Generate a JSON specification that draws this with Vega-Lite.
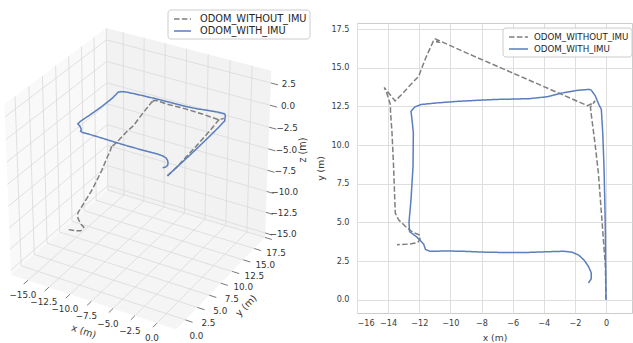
{
"$schema":"https://vega.github.io/schema/vega-lite/v6.json",
"padding":0,
"bounds":"flush",
"spacing":37,
"center":true,
"config":{"font":"DejaVu Sans","view":{"stroke":null},"text":{"font":"DejaVu Sans"}},
"resolve":{"scale":{"color":"independent","strokeDash":"independent","x":"independent","y":"independent"},"legend":{"color":"independent","strokeDash":"independent"}},
"datasets":{
"traj":[
{"series":"ODOM_WITHOUT_IMU","i":0,"x":0,"y":0,"z":0},
{"series":"ODOM_WITHOUT_IMU","i":1,"x":-0.04,"y":2.16,"z":0},
{"series":"ODOM_WITHOUT_IMU","i":2,"x":-0.28,"y":5.39,"z":0},
{"series":"ODOM_WITHOUT_IMU","i":3,"x":-0.49,"y":8.19,"z":0},
{"series":"ODOM_WITHOUT_IMU","i":4,"x":-0.71,"y":10.13,"z":-0.05},
{"series":"ODOM_WITHOUT_IMU","i":5,"x":-0.96,"y":12.07,"z":-0.1},
{"series":"ODOM_WITHOUT_IMU","i":6,"x":-1.0,"y":12.45,"z":-0.1},
{"series":"ODOM_WITHOUT_IMU","i":7,"x":-0.7,"y":12.85,"z":-0.1},
{"series":"ODOM_WITHOUT_IMU","i":8,"x":-0.95,"y":12.65,"z":-0.15},
{"series":"ODOM_WITHOUT_IMU","i":9,"x":-1.2,"y":12.55,"z":-0.2},
{"series":"ODOM_WITHOUT_IMU","i":10,"x":-3.5,"y":13.56,"z":-0.7},
{"series":"ODOM_WITHOUT_IMU","i":11,"x":-6.0,"y":14.66,"z":-1.3},
{"series":"ODOM_WITHOUT_IMU","i":12,"x":-8.5,"y":15.75,"z":-2.0},
{"series":"ODOM_WITHOUT_IMU","i":13,"x":-10.6,"y":16.7,"z":-2.5},
{"series":"ODOM_WITHOUT_IMU","i":14,"x":-11.0,"y":16.88,"z":-2.7},
{"series":"ODOM_WITHOUT_IMU","i":15,"x":-10.75,"y":16.65,"z":-2.75},
{"series":"ODOM_WITHOUT_IMU","i":16,"x":-11.1,"y":16.7,"z":-2.8},
{"series":"ODOM_WITHOUT_IMU","i":17,"x":-11.6,"y":15.6,"z":-3.8},
{"series":"ODOM_WITHOUT_IMU","i":18,"x":-12.04,"y":14.44,"z":-4.8},
{"series":"ODOM_WITHOUT_IMU","i":19,"x":-12.47,"y":14.0,"z":-5.3},
{"series":"ODOM_WITHOUT_IMU","i":20,"x":-13.1,"y":13.3,"z":-6.2},
{"series":"ODOM_WITHOUT_IMU","i":21,"x":-13.55,"y":12.85,"z":-6.8},
{"series":"ODOM_WITHOUT_IMU","i":22,"x":-14.25,"y":13.72,"z":-7.3},
{"series":"ODOM_WITHOUT_IMU","i":23,"x":-14.1,"y":13.4,"z":-7.4},
{"series":"ODOM_WITHOUT_IMU","i":24,"x":-13.85,"y":12.6,"z":-7.6},
{"series":"ODOM_WITHOUT_IMU","i":25,"x":-13.85,"y":12.2,"z":-7.8},
{"series":"ODOM_WITHOUT_IMU","i":26,"x":-13.75,"y":10.78,"z":-8.8},
{"series":"ODOM_WITHOUT_IMU","i":27,"x":-13.65,"y":8.62,"z":-10.0},
{"series":"ODOM_WITHOUT_IMU","i":28,"x":-13.54,"y":5.6,"z":-11.1},
{"series":"ODOM_WITHOUT_IMU","i":29,"x":-13.33,"y":5.17,"z":-11.3},
{"series":"ODOM_WITHOUT_IMU","i":30,"x":-12.9,"y":4.75,"z":-11.4},
{"series":"ODOM_WITHOUT_IMU","i":31,"x":-12.4,"y":4.35,"z":-11.5},
{"series":"ODOM_WITHOUT_IMU","i":32,"x":-12.0,"y":4.2,"z":-11.6},
{"series":"ODOM_WITHOUT_IMU","i":33,"x":-11.95,"y":3.9,"z":-11.7},
{"series":"ODOM_WITHOUT_IMU","i":34,"x":-12.1,"y":3.7,"z":-11.8},
{"series":"ODOM_WITHOUT_IMU","i":35,"x":-12.6,"y":3.6,"z":-11.9},
{"series":"ODOM_WITHOUT_IMU","i":36,"x":-13.43,"y":3.56,"z":-12.0},
{"series":"ODOM_WITH_IMU","i":0,"x":0,"y":0,"z":0},
{"series":"ODOM_WITH_IMU","i":1,"x":-0.02,"y":2.0,"z":0},
{"series":"ODOM_WITH_IMU","i":2,"x":-0.04,"y":4.31,"z":0},
{"series":"ODOM_WITH_IMU","i":3,"x":-0.08,"y":6.5,"z":0},
{"series":"ODOM_WITH_IMU","i":4,"x":-0.13,"y":8.62,"z":0},
{"series":"ODOM_WITH_IMU","i":5,"x":-0.21,"y":10.78,"z":0},
{"series":"ODOM_WITH_IMU","i":6,"x":-0.3,"y":12.3,"z":0},
{"series":"ODOM_WITH_IMU","i":7,"x":-0.45,"y":12.6,"z":0},
{"series":"ODOM_WITH_IMU","i":8,"x":-0.7,"y":13.2,"z":0},
{"series":"ODOM_WITH_IMU","i":9,"x":-0.95,"y":13.55,"z":0},
{"series":"ODOM_WITH_IMU","i":10,"x":-1.1,"y":13.6,"z":0},
{"series":"ODOM_WITH_IMU","i":11,"x":-1.88,"y":13.53,"z":0},
{"series":"ODOM_WITH_IMU","i":12,"x":-2.9,"y":13.35,"z":0},
{"series":"ODOM_WITH_IMU","i":13,"x":-3.8,"y":13.12,"z":0},
{"series":"ODOM_WITH_IMU","i":14,"x":-4.9,"y":13.0,"z":0},
{"series":"ODOM_WITH_IMU","i":15,"x":-6.0,"y":12.97,"z":0},
{"series":"ODOM_WITH_IMU","i":16,"x":-7.0,"y":12.95,"z":0},
{"series":"ODOM_WITH_IMU","i":17,"x":-8.1,"y":12.9,"z":0},
{"series":"ODOM_WITH_IMU","i":18,"x":-9.6,"y":12.82,"z":0},
{"series":"ODOM_WITH_IMU","i":19,"x":-10.9,"y":12.72,"z":0},
{"series":"ODOM_WITH_IMU","i":20,"x":-11.9,"y":12.62,"z":0},
{"series":"ODOM_WITH_IMU","i":21,"x":-12.3,"y":12.45,"z":0},
{"series":"ODOM_WITH_IMU","i":22,"x":-12.53,"y":12.18,"z":0},
{"series":"ODOM_WITH_IMU","i":23,"x":-12.45,"y":11.5,"z":0},
{"series":"ODOM_WITH_IMU","i":24,"x":-12.38,"y":10.78,"z":0},
{"series":"ODOM_WITH_IMU","i":25,"x":-12.4,"y":8.62,"z":0},
{"series":"ODOM_WITH_IMU","i":26,"x":-12.53,"y":6.47,"z":0},
{"series":"ODOM_WITH_IMU","i":27,"x":-12.66,"y":5.0,"z":0},
{"series":"ODOM_WITH_IMU","i":28,"x":-12.62,"y":4.4,"z":0},
{"series":"ODOM_WITH_IMU","i":29,"x":-12.15,"y":4.05,"z":0},
{"series":"ODOM_WITH_IMU","i":30,"x":-11.72,"y":3.6,"z":0},
{"series":"ODOM_WITH_IMU","i":31,"x":-11.6,"y":3.25,"z":0},
{"series":"ODOM_WITH_IMU","i":32,"x":-11.3,"y":3.13,"z":0},
{"series":"ODOM_WITH_IMU","i":33,"x":-10.2,"y":3.15,"z":0},
{"series":"ODOM_WITH_IMU","i":34,"x":-9.16,"y":3.13,"z":0},
{"series":"ODOM_WITH_IMU","i":35,"x":-8.0,"y":3.08,"z":0},
{"series":"ODOM_WITH_IMU","i":36,"x":-7.0,"y":3.06,"z":0},
{"series":"ODOM_WITH_IMU","i":37,"x":-6.0,"y":3.05,"z":0},
{"series":"ODOM_WITH_IMU","i":38,"x":-4.88,"y":3.06,"z":0},
{"series":"ODOM_WITH_IMU","i":39,"x":-3.8,"y":3.1,"z":0},
{"series":"ODOM_WITH_IMU","i":40,"x":-2.74,"y":3.13,"z":0},
{"series":"ODOM_WITH_IMU","i":41,"x":-2.2,"y":3.08,"z":0},
{"series":"ODOM_WITH_IMU","i":42,"x":-1.75,"y":2.88,"z":0},
{"series":"ODOM_WITH_IMU","i":43,"x":-1.4,"y":2.55,"z":0},
{"series":"ODOM_WITH_IMU","i":44,"x":-1.13,"y":2.15,"z":0},
{"series":"ODOM_WITH_IMU","i":45,"x":-0.95,"y":1.75,"z":0},
{"series":"ODOM_WITH_IMU","i":46,"x":-0.95,"y":1.35,"z":0},
{"series":"ODOM_WITH_IMU","i":47,"x":-1.13,"y":1.08,"z":0}
],
"ticks":[
{"axis":"x","v":-15},{"axis":"x","v":-12.5},{"axis":"x","v":-10},{"axis":"x","v":-7.5},{"axis":"x","v":-5},{"axis":"x","v":-2.5},{"axis":"x","v":0},
{"axis":"y","v":0},{"axis":"y","v":2.5},{"axis":"y","v":5},{"axis":"y","v":7.5},{"axis":"y","v":10},{"axis":"y","v":12.5},{"axis":"y","v":15},{"axis":"y","v":17.5},
{"axis":"z","v":-15},{"axis":"z","v":-12.5},{"axis":"z","v":-10},{"axis":"z","v":-7.5},{"axis":"z","v":-5},{"axis":"z","v":-2.5},{"axis":"z","v":0},{"axis":"z","v":2.5}
],
"panes":[
{"pane":"floor","k":0,"cx":0,"cy":0,"cz":0},{"pane":"floor","k":1,"cx":1,"cy":0,"cz":0},{"pane":"floor","k":2,"cx":1,"cy":1,"cz":0},{"pane":"floor","k":3,"cx":0,"cy":1,"cz":0},
{"pane":"xwall","k":0,"cx":0,"cy":0,"cz":0},{"pane":"xwall","k":1,"cx":0,"cy":1,"cz":0},{"pane":"xwall","k":2,"cx":0,"cy":1,"cz":1},{"pane":"xwall","k":3,"cx":0,"cy":0,"cz":1},
{"pane":"ywall","k":0,"cx":0,"cy":1,"cz":0},{"pane":"ywall","k":1,"cx":1,"cy":1,"cz":0},{"pane":"ywall","k":2,"cx":1,"cy":1,"cz":1},{"pane":"ywall","k":3,"cx":0,"cy":1,"cz":1}
]
},
"hconcat":[
{
"width":320,"height":336,
"view":{"stroke":null},
"encoding":{
"x":{"field":"sx","type":"quantitative","scale":{"domain":[-0.07349,0.09449],"nice":false,"zero":false},"axis":null},
"y":{"field":"sy","type":"quantitative","scale":{"domain":[-0.0835,0.08926],"nice":false,"zero":false},"axis":null}
},
"layer":[
{"data":{"name":"panes"},
"transform":[{"filter":"datum.pane=='floor'"},
{"calculate":"datum.cx==1?2.14:-17.04","as":"X"},{"calculate":"datum.cy==1?17.5:-1.9","as":"Y"},{"calculate":"datum.cz==1?3.87:-15.54","as":"Z"},
{"calculate":"(datum.X+17.04)/19.18-0.5","as":"qx"},{"calculate":"(datum.Y+1.9)/19.4-0.5","as":"qy"},{"calculate":"(datum.Z+15.54)/19.41-0.5","as":"qz"},
{"calculate":"(0.866*datum.qx+0.5*datum.qy)/(10-0.433*datum.qx+0.75*datum.qy-0.5*datum.qz)","as":"sx"},
{"calculate":"(-0.25*datum.qx+0.433*datum.qy+0.866*datum.qz)/(10-0.433*datum.qx+0.75*datum.qy-0.5*datum.qz)","as":"sy"}],
"mark":{"type":"line","fill":"#f5f5f5","strokeOpacity":0},
"encoding":{"order":{"field":"k","type":"quantitative"}}},
{"data":{"name":"panes"},
"transform":[{"filter":"datum.pane=='xwall'"},
{"calculate":"datum.cx==1?2.14:-17.04","as":"X"},{"calculate":"datum.cy==1?17.5:-1.9","as":"Y"},{"calculate":"datum.cz==1?3.87:-15.54","as":"Z"},
{"calculate":"(datum.X+17.04)/19.18-0.5","as":"qx"},{"calculate":"(datum.Y+1.9)/19.4-0.5","as":"qy"},{"calculate":"(datum.Z+15.54)/19.41-0.5","as":"qz"},
{"calculate":"(0.866*datum.qx+0.5*datum.qy)/(10-0.433*datum.qx+0.75*datum.qy-0.5*datum.qz)","as":"sx"},
{"calculate":"(-0.25*datum.qx+0.433*datum.qy+0.866*datum.qz)/(10-0.433*datum.qx+0.75*datum.qy-0.5*datum.qz)","as":"sy"}],
"mark":{"type":"line","fill":"#f9f9f9","strokeOpacity":0},
"encoding":{"order":{"field":"k","type":"quantitative"}}},
{"data":{"name":"panes"},
"transform":[{"filter":"datum.pane=='ywall'"},
{"calculate":"datum.cx==1?2.14:-17.04","as":"X"},{"calculate":"datum.cy==1?17.5:-1.9","as":"Y"},{"calculate":"datum.cz==1?3.87:-15.54","as":"Z"},
{"calculate":"(datum.X+17.04)/19.18-0.5","as":"qx"},{"calculate":"(datum.Y+1.9)/19.4-0.5","as":"qy"},{"calculate":"(datum.Z+15.54)/19.41-0.5","as":"qz"},
{"calculate":"(0.866*datum.qx+0.5*datum.qy)/(10-0.433*datum.qx+0.75*datum.qy-0.5*datum.qz)","as":"sx"},
{"calculate":"(-0.25*datum.qx+0.433*datum.qy+0.866*datum.qz)/(10-0.433*datum.qx+0.75*datum.qy-0.5*datum.qz)","as":"sy"}],
"mark":{"type":"line","fill":"#f2f2f2","strokeOpacity":0},
"encoding":{"order":{"field":"k","type":"quantitative"}}},
{"data":{"name":"ticks"},
"transform":[
{"calculate":"datum.axis=='x'?datum.v:(datum.axis=='y'?2.14:-17.04)","as":"X"},
{"calculate":"datum.axis=='y'?datum.v:-1.9","as":"Y"},
{"calculate":"datum.axis=='z'?datum.v:-15.54","as":"Z"},
{"calculate":"datum.axis=='x'?datum.v:-17.04","as":"X2"},
{"calculate":"datum.axis=='y'?datum.v:17.5","as":"Y2"},
{"calculate":"datum.axis=='z'?datum.v:-15.54","as":"Z2"},
{"calculate":"(datum.X+17.04)/19.18-0.5","as":"qx"},{"calculate":"(datum.Y+1.9)/19.4-0.5","as":"qy"},{"calculate":"(datum.Z+15.54)/19.41-0.5","as":"qz"},
{"calculate":"(0.866*datum.qx+0.5*datum.qy)/(10-0.433*datum.qx+0.75*datum.qy-0.5*datum.qz)","as":"sx"},
{"calculate":"(-0.25*datum.qx+0.433*datum.qy+0.866*datum.qz)/(10-0.433*datum.qx+0.75*datum.qy-0.5*datum.qz)","as":"sy"},
{"calculate":"(datum.X2+17.04)/19.18-0.5","as":"qx2"},{"calculate":"(datum.Y2+1.9)/19.4-0.5","as":"qy2"},{"calculate":"(datum.Z2+15.54)/19.41-0.5","as":"qz2"},
{"calculate":"(0.866*datum.qx2+0.5*datum.qy2)/(10-0.433*datum.qx2+0.75*datum.qy2-0.5*datum.qz2)","as":"sx2"},
{"calculate":"(-0.25*datum.qx2+0.433*datum.qy2+0.866*datum.qz2)/(10-0.433*datum.qx2+0.75*datum.qy2-0.5*datum.qz2)","as":"sy2"}],
"mark":{"type":"rule","color":"#dcdcdc","strokeWidth":0.9},
"encoding":{"x2":{"field":"sx2"},"y2":{"field":"sy2"}}},
{"data":{"name":"ticks"},
"transform":[
{"calculate":"datum.axis=='x'?datum.v:-17.04","as":"X"},
{"calculate":"datum.axis=='y'?datum.v:17.5","as":"Y"},
{"calculate":"datum.axis=='z'?datum.v:-15.54","as":"Z"},
{"calculate":"datum.axis=='x'?datum.v:(datum.axis=='y'?-17.04:2.14)","as":"X2"},
{"calculate":"datum.axis=='y'?datum.v:17.5","as":"Y2"},
{"calculate":"datum.axis=='z'?datum.v:3.87","as":"Z2"},
{"calculate":"(datum.X+17.04)/19.18-0.5","as":"qx"},{"calculate":"(datum.Y+1.9)/19.4-0.5","as":"qy"},{"calculate":"(datum.Z+15.54)/19.41-0.5","as":"qz"},
{"calculate":"(0.866*datum.qx+0.5*datum.qy)/(10-0.433*datum.qx+0.75*datum.qy-0.5*datum.qz)","as":"sx"},
{"calculate":"(-0.25*datum.qx+0.433*datum.qy+0.866*datum.qz)/(10-0.433*datum.qx+0.75*datum.qy-0.5*datum.qz)","as":"sy"},
{"calculate":"(datum.X2+17.04)/19.18-0.5","as":"qx2"},{"calculate":"(datum.Y2+1.9)/19.4-0.5","as":"qy2"},{"calculate":"(datum.Z2+15.54)/19.41-0.5","as":"qz2"},
{"calculate":"(0.866*datum.qx2+0.5*datum.qy2)/(10-0.433*datum.qx2+0.75*datum.qy2-0.5*datum.qz2)","as":"sx2"},
{"calculate":"(-0.25*datum.qx2+0.433*datum.qy2+0.866*datum.qz2)/(10-0.433*datum.qx2+0.75*datum.qy2-0.5*datum.qz2)","as":"sy2"}],
"mark":{"type":"rule","color":"#dcdcdc","strokeWidth":0.9},
"encoding":{"x2":{"field":"sx2"},"y2":{"field":"sy2"}}},
{"data":{"name":"ticks"},
"transform":[
{"calculate":"datum.axis=='x'?datum.v:2.14","as":"X"},
{"calculate":"datum.axis=='x'?-1.9:(datum.axis=='y'?datum.v:17.5)","as":"Y"},
{"calculate":"datum.axis=='z'?datum.v:-15.54","as":"Z"},
{"calculate":"datum.axis=='x'?datum.v:2.94","as":"X2"},
{"calculate":"datum.axis=='x'?-2.7:datum.Y","as":"Y2"},
{"calculate":"datum.Z","as":"Z2"},
{"calculate":"(datum.X+17.04)/19.18-0.5","as":"qx"},{"calculate":"(datum.Y+1.9)/19.4-0.5","as":"qy"},{"calculate":"(datum.Z+15.54)/19.41-0.5","as":"qz"},
{"calculate":"(0.866*datum.qx+0.5*datum.qy)/(10-0.433*datum.qx+0.75*datum.qy-0.5*datum.qz)","as":"sx"},
{"calculate":"(-0.25*datum.qx+0.433*datum.qy+0.866*datum.qz)/(10-0.433*datum.qx+0.75*datum.qy-0.5*datum.qz)","as":"sy"},
{"calculate":"(datum.X2+17.04)/19.18-0.5","as":"qx2"},{"calculate":"(datum.Y2+1.9)/19.4-0.5","as":"qy2"},{"calculate":"(datum.Z2+15.54)/19.41-0.5","as":"qz2"},
{"calculate":"(0.866*datum.qx2+0.5*datum.qy2)/(10-0.433*datum.qx2+0.75*datum.qy2-0.5*datum.qz2)","as":"sx2"},
{"calculate":"(-0.25*datum.qx2+0.433*datum.qy2+0.866*datum.qz2)/(10-0.433*datum.qx2+0.75*datum.qy2-0.5*datum.qz2)","as":"sy2"}],
"mark":{"type":"rule","color":"#555555","strokeWidth":0.8},
"encoding":{"x2":{"field":"sx2"},"y2":{"field":"sy2"}}},
{"data":{"name":"ticks"},
"transform":[{"filter":"datum.axis=='x'"},
{"calculate":"(datum.v+17.04)/19.18-0.5","as":"qx"},{"calculate":"-0.5","as":"qy"},{"calculate":"-0.5","as":"qz"},
{"calculate":"(0.866*datum.qx+0.5*datum.qy)/(10-0.433*datum.qx+0.75*datum.qy-0.5*datum.qz)","as":"sx"},
{"calculate":"(-0.25*datum.qx+0.433*datum.qy+0.866*datum.qz)/(10-0.433*datum.qx+0.75*datum.qy-0.5*datum.qz)","as":"sy"}],
"mark":{"type":"text","fontSize":8.8,"color":"#333333","dx":-5,"dy":15,"align":"center","baseline":"middle"},
"encoding":{"text":{"field":"v","type":"quantitative","format":".1f"}}},
{"data":{"name":"ticks"},
"transform":[{"filter":"datum.axis=='y'"},
{"calculate":"0.5","as":"qx"},{"calculate":"(datum.v+1.9)/19.4-0.5","as":"qy"},{"calculate":"-0.5","as":"qz"},
{"calculate":"(0.866*datum.qx+0.5*datum.qy)/(10-0.433*datum.qx+0.75*datum.qy-0.5*datum.qz)","as":"sx"},
{"calculate":"(-0.25*datum.qx+0.433*datum.qy+0.866*datum.qz)/(10-0.433*datum.qx+0.75*datum.qy-0.5*datum.qz)","as":"sy"}],
"mark":{"type":"text","fontSize":8.8,"color":"#333333","dx":11,"dy":16,"align":"center","baseline":"middle"},
"encoding":{"text":{"field":"v","type":"quantitative","format":".1f"}}},
{"data":{"name":"ticks"},
"transform":[{"filter":"datum.axis=='z'"},
{"calculate":"0.5","as":"qx"},{"calculate":"0.5","as":"qy"},{"calculate":"(datum.v+15.54)/19.41-0.5","as":"qz"},
{"calculate":"(0.866*datum.qx+0.5*datum.qy)/(10-0.433*datum.qx+0.75*datum.qy-0.5*datum.qz)","as":"sx"},
{"calculate":"(-0.25*datum.qx+0.433*datum.qy+0.866*datum.qz)/(10-0.433*datum.qx+0.75*datum.qy-0.5*datum.qz)","as":"sy"}],
"mark":{"type":"text","fontSize":8.8,"color":"#333333","dx":18,"dy":1,"align":"center","baseline":"middle"},
"encoding":{"text":{"field":"v","type":"quantitative","format":".1f"}}},
{"data":{"values":[{"title":"x (m)"}]},
"transform":[{"calculate":"0","as":"qx"},{"calculate":"-0.5","as":"qy"},{"calculate":"-0.5","as":"qz"},
{"calculate":"(0.866*datum.qx+0.5*datum.qy)/(10-0.433*datum.qx+0.75*datum.qy-0.5*datum.qz)","as":"sx"},
{"calculate":"(-0.25*datum.qx+0.433*datum.qy+0.866*datum.qz)/(10-0.433*datum.qx+0.75*datum.qy-0.5*datum.qz)","as":"sy"}],
"mark":{"type":"text","fontSize":9.6,"color":"#333333","angle":19,"dx":2.2,"dy":31,"align":"center","baseline":"middle"},
"encoding":{"text":{"field":"title"}}},
{"data":{"values":[{"title":"y (m)"}]},
"transform":[{"calculate":"0.5","as":"qx"},{"calculate":"0","as":"qy"},{"calculate":"-0.5","as":"qz"},
{"calculate":"(0.866*datum.qx+0.5*datum.qy)/(10-0.433*datum.qx+0.75*datum.qy-0.5*datum.qz)","as":"sx"},
{"calculate":"(-0.25*datum.qx+0.433*datum.qy+0.866*datum.qz)/(10-0.433*datum.qx+0.75*datum.qy-0.5*datum.qz)","as":"sy"}],
"mark":{"type":"text","fontSize":9.6,"color":"#333333","angle":-46,"dx":-0.6,"dy":34,"align":"center","baseline":"middle"},
"encoding":{"text":{"field":"title"}}},
{"data":{"values":[{"title":"z (m)"}]},
"transform":[{"calculate":"0.5","as":"qx"},{"calculate":"0.5","as":"qy"},{"calculate":"0","as":"qz"},
{"calculate":"(0.866*datum.qx+0.5*datum.qy)/(10-0.433*datum.qx+0.75*datum.qy-0.5*datum.qz)","as":"sx"},
{"calculate":"(-0.25*datum.qx+0.433*datum.qy+0.866*datum.qz)/(10-0.433*datum.qx+0.75*datum.qy-0.5*datum.qz)","as":"sy"}],
"mark":{"type":"text","fontSize":9.6,"color":"#333333","angle":-90,"dx":6,"dy":35,"align":"center","baseline":"middle"},
"encoding":{"text":{"field":"title"}}},
{"data":{"name":"traj"},
"transform":[
{"calculate":"(datum.x+17.04)/19.18-0.5","as":"qx"},{"calculate":"(datum.y+1.9)/19.4-0.5","as":"qy"},{"calculate":"(datum.z+15.54)/19.41-0.5","as":"qz"},
{"calculate":"(0.866*datum.qx+0.5*datum.qy)/(10-0.433*datum.qx+0.75*datum.qy-0.5*datum.qz)","as":"sx"},
{"calculate":"(-0.25*datum.qx+0.433*datum.qy+0.866*datum.qz)/(10-0.433*datum.qx+0.75*datum.qy-0.5*datum.qz)","as":"sy"}],
"mark":{"type":"line","strokeWidth":1.5},
"encoding":{
"order":{"field":"i","type":"quantitative"},
"color":{"field":"series","type":"nominal","scale":{"domain":["ODOM_WITHOUT_IMU","ODOM_WITH_IMU"],"range":["#7f7f7f","#5a7ebe"]},
"legend":{"orient":"none","legendX":167.5,"legendY":9.5,"title":null,"symbolType":"M-0.5,0H2.333","symbolSize":144,"symbolStrokeWidth":1.5,"labelFont":"DejaVu Sans","labelFontSize":9.8,"labelColor":"#262626","labelOffset":16,"fillColor":"rgba(255,255,255,0.85)","strokeColor":"#cccccc","cornerRadius":3,"padding":2.5,"rowPadding":0,"labelLimit":300}},
"strokeDash":{"field":"series","type":"nominal","scale":{"domain":["ODOM_WITHOUT_IMU","ODOM_WITH_IMU"],"range":[[5.5,2.4],[1,0]]},
"legend":{"orient":"none","legendX":167.5,"legendY":9.5,"title":null,"symbolType":"M-0.5,0H2.333","symbolSize":144,"symbolStrokeWidth":1.5,"labelFont":"DejaVu Sans","labelFontSize":9.8,"labelColor":"#262626","labelOffset":16,"fillColor":"rgba(255,255,255,0.85)","strokeColor":"#cccccc","cornerRadius":3,"padding":2.5,"rowPadding":0,"labelLimit":300}}
}}
]
},
{
"width":275,"height":290,
"view":{"stroke":"#cccccc"},
"data":{"name":"traj"},
"mark":{"type":"line","strokeWidth":1.5},
"encoding":{
"x":{"field":"x","type":"quantitative","scale":{"domain":[-16,1.67],"nice":false,"zero":false},
"axis":{"values":[-16,-14,-12,-10,-8,-6,-4,-2,0],"format":"d","grid":true,"gridColor":"#dedede","gridWidth":1,"domain":false,"ticks":false,"labelPadding":6,"labelFontSize":8.1,"labelColor":"#3a3a3a","labelFont":"DejaVu Sans","title":"x (m)","titleFont":"DejaVu Sans","titleFontSize":9.2,"titleFontWeight":"normal","titleColor":"#3a3a3a","titleY":24,"titleBaseline":"middle"}},
"y":{"field":"y","type":"quantitative","scale":{"domain":[-0.86,17.89],"nice":false,"zero":false},
"axis":{"values":[0,2.5,5,7.5,10,12.5,15,17.5],"format":".1f","grid":true,"gridColor":"#dedede","gridWidth":1,"domain":false,"ticks":false,"labelPadding":8,"labelFontSize":8.1,"labelColor":"#3a3a3a","labelFont":"DejaVu Sans","title":"y (m)","titleFont":"DejaVu Sans","titleFontSize":9.2,"titleFontWeight":"normal","titleColor":"#3a3a3a","titleX":-36.7,"titleY":145,"titleAngle":270,"titleAlign":"center","titleBaseline":"middle"}},
"order":{"field":"i","type":"quantitative"},
"color":{"field":"series","type":"nominal","scale":{"domain":["ODOM_WITHOUT_IMU","ODOM_WITH_IMU"],"range":["#7f7f7f","#5a7ebe"]},
"legend":{"orient":"none","legendX":145.5,"legendY":4.5,"title":null,"symbolType":"M-0.5,0H2.667","symbolSize":144,"symbolStrokeWidth":1.5,"labelFont":"DejaVu Sans","labelFontSize":8.7,"labelColor":"#262626","labelOffset":15,"fillColor":"rgba(255,255,255,0.85)","strokeColor":"#cccccc","cornerRadius":3,"padding":2.5,"rowPadding":0,"labelLimit":300}},
"strokeDash":{"field":"series","type":"nominal","scale":{"domain":["ODOM_WITHOUT_IMU","ODOM_WITH_IMU"],"range":[[5.5,2.4],[1,0]]},
"legend":{"orient":"none","legendX":145.5,"legendY":4.5,"title":null,"symbolType":"M-0.5,0H2.667","symbolSize":144,"symbolStrokeWidth":1.5,"labelFont":"DejaVu Sans","labelFontSize":8.7,"labelColor":"#262626","labelOffset":15,"fillColor":"rgba(255,255,255,0.85)","strokeColor":"#cccccc","cornerRadius":3,"padding":2.5,"rowPadding":0,"labelLimit":300}}
}
}
]
}
